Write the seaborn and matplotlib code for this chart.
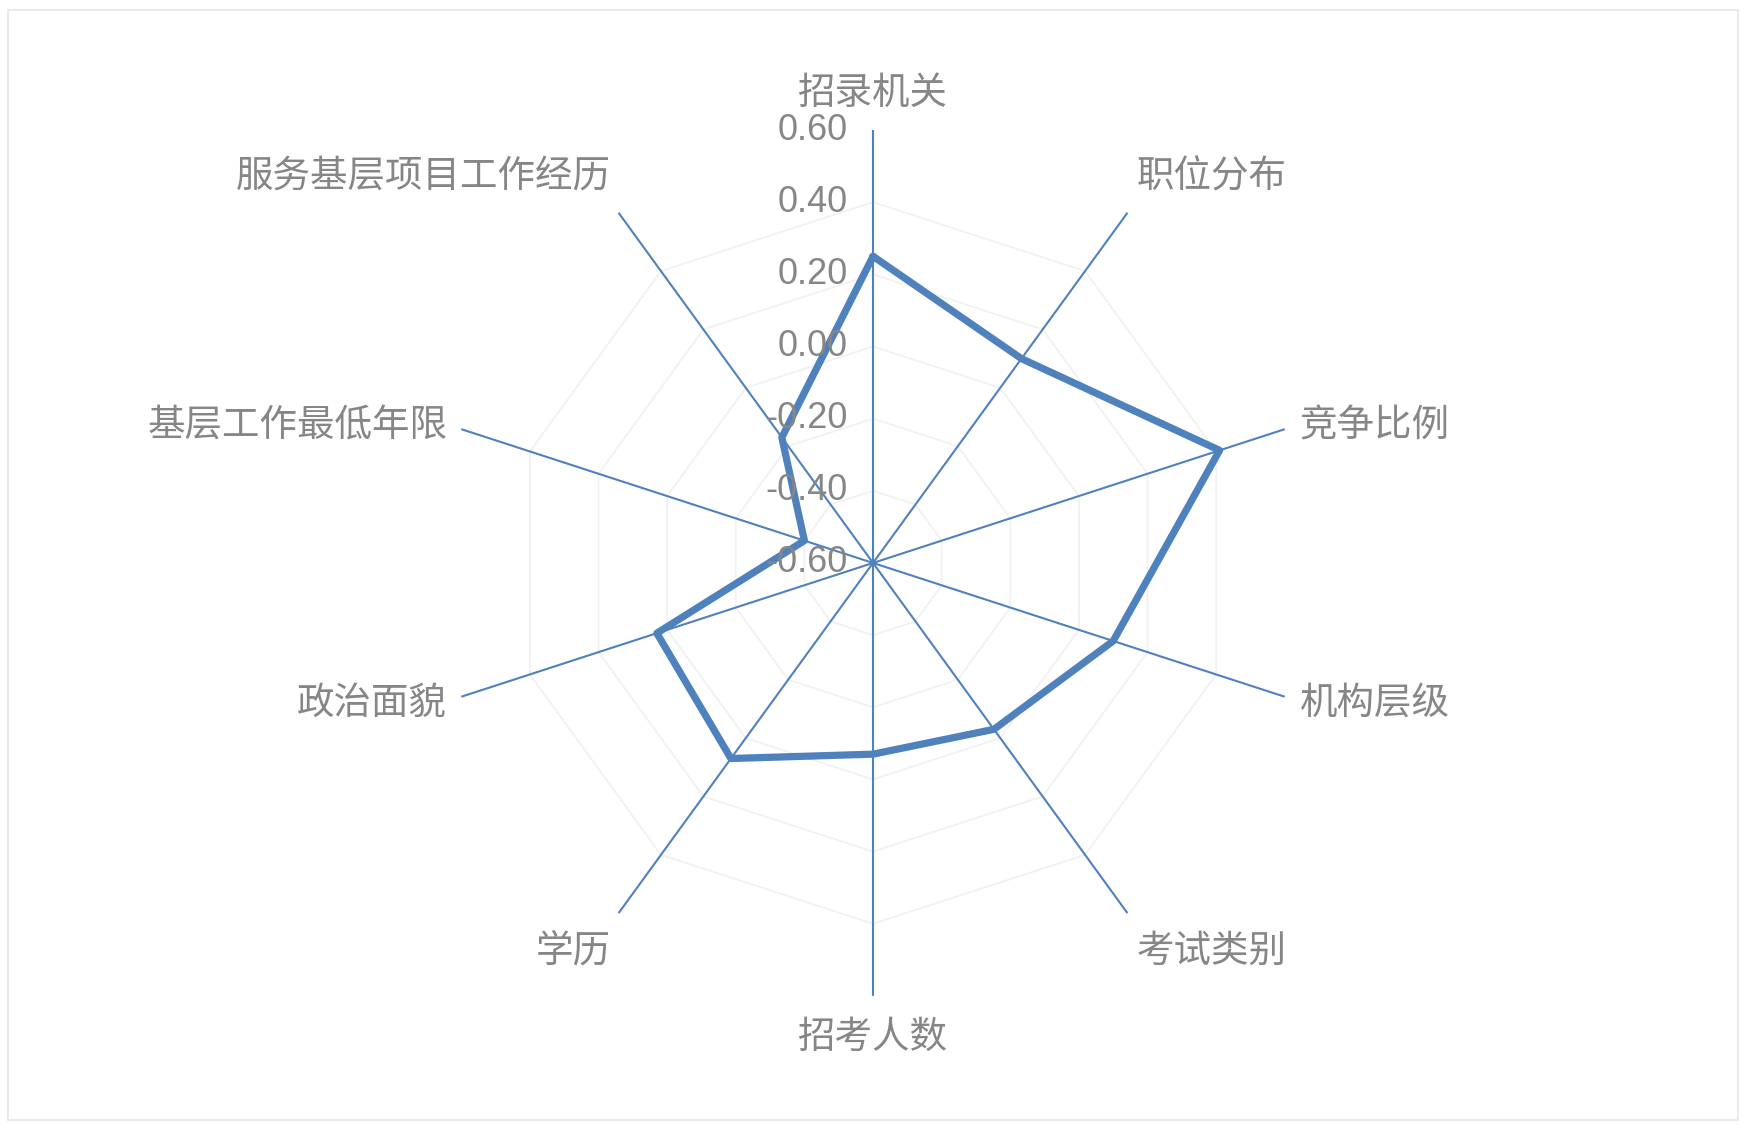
import numpy as np
import pandas as pd
import matplotlib
matplotlib.use("Agg")
import matplotlib.pyplot as plt
import matplotlib.transforms as mtransforms
from matplotlib.patches import Rectangle
import seaborn as sns

# data
categories = ['招录机关', '职位分布', '竞争比例', '机构层级', '考试类别',
              '招考人数', '学历', '政治面貌', '基层工作最低年限', '服务基层项目工作经历']
values = [0.25, 0.10, 0.41, 0.10, -0.03, -0.07, 0.07, 0.03, -0.40, -0.17]
ring_levels = [-0.6, -0.4, -0.2, 0.0, 0.2, 0.4, 0.6]
ring_labels = ['-0.60', '-0.40', '-0.20', '0.00', '0.20', '0.40', '0.60']

sns.set_theme(style='white')
plt.rcParams['font.family'] = ['Liberation Sans', 'Noto Sans CJK SC', 'DejaVu Sans']
plt.rcParams['axes.unicode_minus'] = False

blue = '#4f81bd'
grey_text = '#868686'

n = len(categories)
angles = np.arange(n) * 2 * np.pi / n
df = pd.DataFrame({'angle': np.append(angles, 2 * np.pi), 'value': values + values[:1]})

fig = plt.figure(figsize=(17.45, 11.25), dpi=100)
ax = fig.add_axes([0.2522, 0.1147, 0.4962, 0.7698], projection='polar')
ax.set_theta_zero_location('N')
ax.set_theta_direction(-1)
ax.set_ylim(-0.6, 0.6)
ax.grid(False)
ax.set_xticks([])
ax.set_yticks([])
ax.spines['polar'].set_visible(False)
ax.set_facecolor('none')

# polygon gridlines (Excel style)
for lv in ring_levels[1:-1]:
    ax.plot(np.append(angles, 0), [lv] * (n + 1), color='#f1f1f1', lw=1.3, zorder=1)

# spokes
for a in angles:
    ax.plot([a, a], [-0.6, 0.6], color=blue, lw=1.5, zorder=2)

# data series
sns.lineplot(data=df, x='angle', y='value', sort=False, ax=ax, color=blue,
             lw=5.2, zorder=3, estimator=None)
ax.set_xlabel('')
ax.set_ylabel('')

# radial value labels along the top spoke
offset = mtransforms.ScaledTranslation(-0.25, 0, fig.dpi_scale_trans)
for lv, lab in zip(ring_levels, ring_labels):
    ax.text(0, lv, lab, transform=ax.transData + offset, ha='right', va='center',
            fontsize=26, color=grey_text, zorder=5)

# category labels outside spoke ends
for a, lab in zip(angles, categories):
    s, c = np.sin(a), np.cos(a)
    side = 8 if abs(c) > 0.5 else 14
    if abs(s) < 0.1:
        ha, dx = 'center', 0
    elif s > 0:
        ha, dx = 'left', side + 1
    else:
        ha, dx = 'right', -side
    if c > 0.5:
        va, dy = 'bottom', 14 + 4 * c
    elif c < -0.5:
        va, dy = 'top', -4 + 20 * c
    else:
        va, dy = 'center', -2 + 15 * c
    ax.annotate(lab, xy=(a, 0.6), xytext=(dx, dy), textcoords='offset pixels',
                ha=ha, va=va, fontsize=27, color=grey_text, annotation_clip=False)

fig.patches.append(Rectangle((0.0046, 0.0044), 0.9914, 0.9867, transform=fig.transFigure,
                             fill=False, ec='#eaeaea', lw=1.5))

fig.savefig('out.png', dpi=100, facecolor='white')
